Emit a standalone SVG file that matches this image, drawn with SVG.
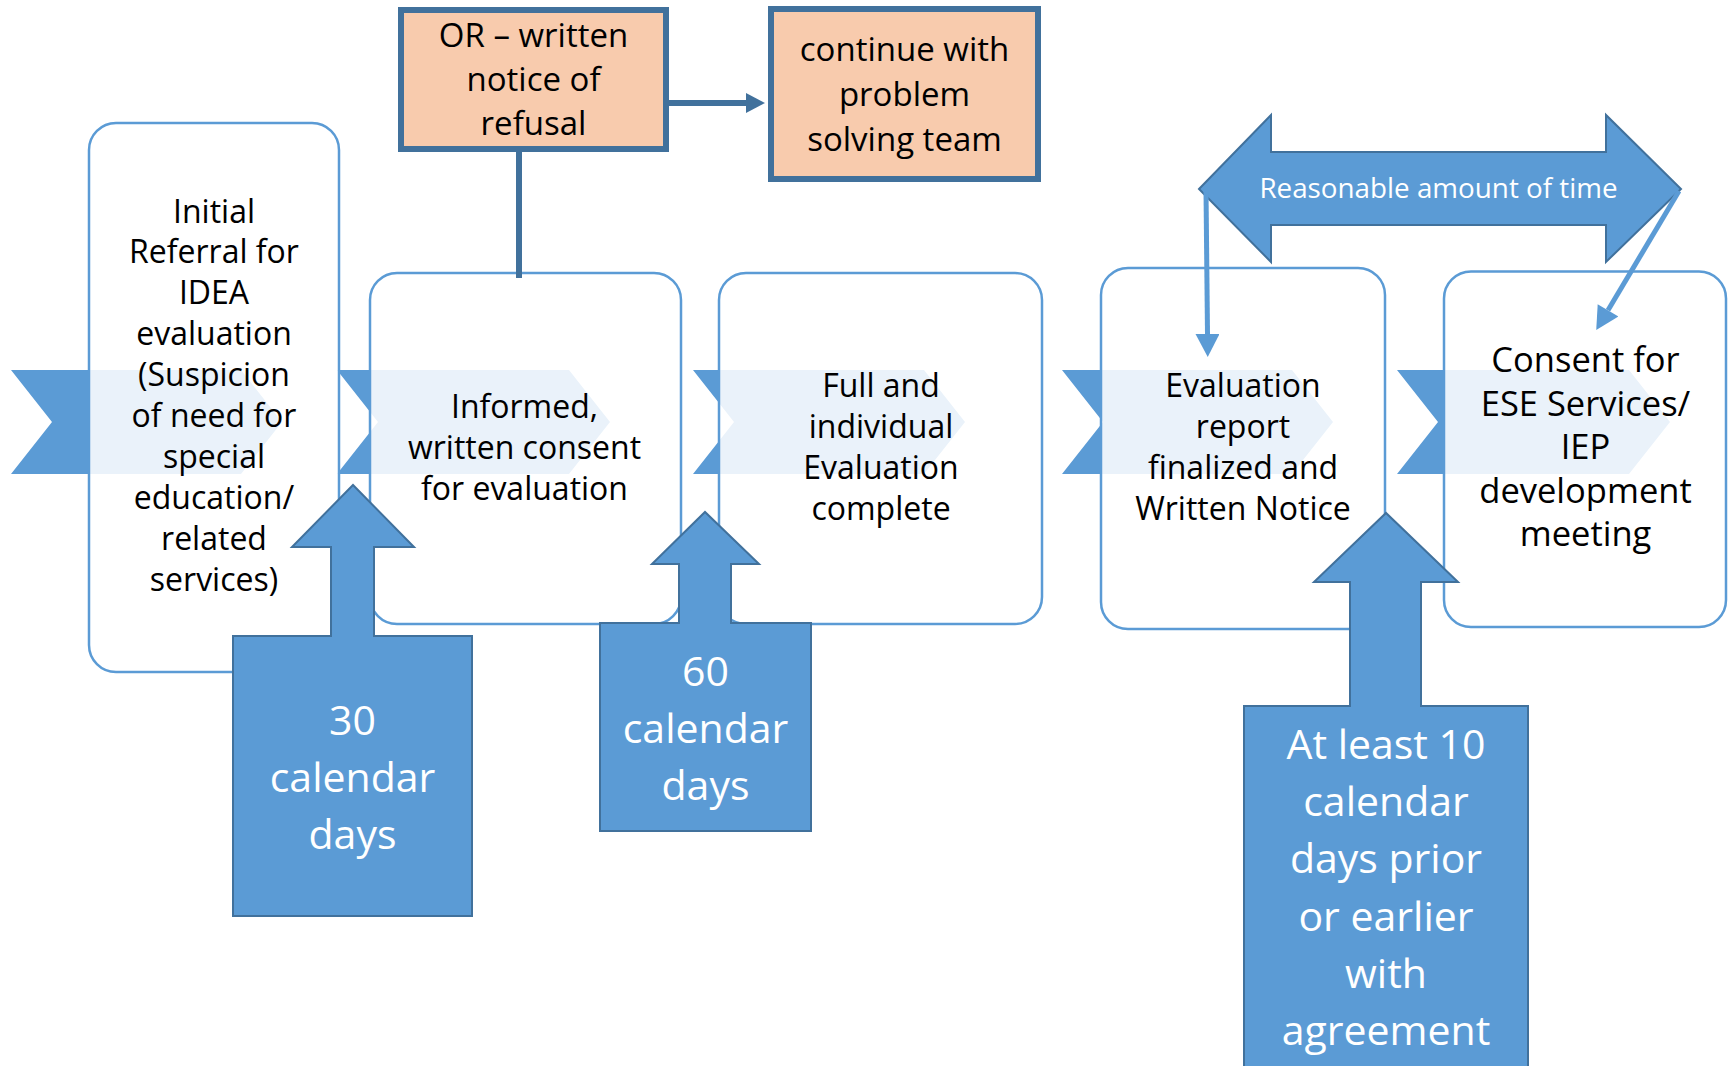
<svg xmlns="http://www.w3.org/2000/svg" width="1733" height="1066" viewBox="0 0 1733 1066">
<style>
text{font-family:"Open Sans","Liberation Sans",sans-serif;text-anchor:middle;}
.chev{fill:#5B9BD5;}
.node{fill:#FFFFFF;fill-opacity:0.87;stroke:#5B9BD5;stroke-width:2.5;}
.nt{font-size:32px;fill:#000000;}
.n5t{font-size:34.5px;fill:#000000;}
.peach{fill:#F8CBAD;stroke:#41719C;stroke-width:6;}
.pt{font-size:33px;fill:#000000;}
.blk{fill:#5B9BD5;stroke:#41719C;stroke-width:2;stroke-linejoin:miter;}
.bt{font-size:41px;fill:#FFFFFF;}
.rt{font-size:27.8px;fill:#FFFFFF;}
.thin{stroke:#5B9BD5;stroke-width:5;fill:none;}
.dark{stroke:#41719C;stroke-width:6;fill:none;}
</style>
<defs>
<marker id="mthin" markerUnits="userSpaceOnUse" markerWidth="24" markerHeight="24" refX="0" refY="12" orient="auto" viewBox="0 0 23 24">
<path d="M0,0 L23,12 L0,24 Z" fill="#5B9BD5"/>
</marker>
<marker id="mdark" markerUnits="userSpaceOnUse" markerWidth="20" markerHeight="20" refX="0" refY="10" orient="auto" viewBox="0 0 19 20">
<path d="M0,0 L19,10 L0,20 Z" fill="#41719C"/>
</marker>
</defs>
<rect x="0" y="0" width="1733" height="1066" fill="#FFFFFF"/>

<g id="chevrons">
<path class="chev" d="M11,370 L241,370 L282,422 L241,474 L11,474 L52,422 Z"/>
<path class="chev" d="M337,370 L569,370 L610,422 L569,474 L337,474 L378,422 Z"/>
<path class="chev" d="M693,370 L924,370 L965,422 L924,474 L693,474 L734,422 Z"/>
<path class="chev" d="M1062,370 L1292,370 L1333,422 L1292,474 L1062,474 L1103,422 Z"/>
<path class="chev" d="M1397,370 L1629,370 L1670,422 L1629,474 L1397,474 L1438,422 Z"/>
</g>

<g id="node1">
<rect class="node" x="89" y="123" width="250" height="549" rx="27"/>
<text class="nt"><tspan x="214" y="222.5">Initial</tspan><tspan x="214" y="263.4">Referral for</tspan><tspan x="214" y="304.3">IDEA</tspan><tspan x="214" y="345.2">evaluation</tspan><tspan x="214" y="386.1">(Suspicion</tspan><tspan x="214" y="427">of need for</tspan><tspan x="214" y="467.9">special</tspan><tspan x="214" y="508.8">education/</tspan><tspan x="214" y="549.7">related</tspan><tspan x="214" y="590.6">services)</tspan></text>
</g>

<g id="node2">
<rect class="node" x="370" y="273" width="311" height="351" rx="27"/>
<text class="nt"><tspan x="524.5" y="418">Informed,</tspan><tspan x="524.5" y="459">written consent</tspan><tspan x="524.5" y="500">for evaluation</tspan></text>
</g>

<g id="node3">
<rect class="node" x="719" y="273" width="323" height="351" rx="27"/>
<text class="nt"><tspan x="881" y="397">Full and</tspan><tspan x="881" y="438">individual</tspan><tspan x="881" y="479">Evaluation</tspan><tspan x="881" y="520">complete</tspan></text>
</g>

<g id="node4">
<rect class="node" x="1101" y="268" width="284" height="361" rx="27"/>
<text class="nt"><tspan x="1243" y="397">Evaluation</tspan><tspan x="1243" y="438">report</tspan><tspan x="1243" y="479">finalized and</tspan><tspan x="1243" y="520">Written Notice</tspan></text>
</g>

<g id="node5">
<rect class="node" x="1444" y="271.5" width="282" height="355.5" rx="27"/>
<text class="n5t"><tspan x="1585.5" y="372">Consent for</tspan><tspan x="1585.5" y="415.6">ESE Services/</tspan><tspan x="1585.5" y="459.2">IEP</tspan><tspan x="1585.5" y="502.8">development</tspan><tspan x="1585.5" y="546.4">meeting</tspan></text>
</g>

<g id="refusal">
<rect class="peach" x="401" y="10" width="265" height="139"/>
<text class="pt"><tspan x="533.5" y="47">OR – written</tspan><tspan x="533.5" y="91">notice of</tspan><tspan x="533.5" y="135">refusal</tspan></text>
</g>

<g id="continue">
<rect class="peach" x="771" y="9" width="267" height="170"/>
<text class="pt"><tspan x="904.5" y="61">continue with</tspan><tspan x="904.5" y="106">problem</tspan><tspan x="904.5" y="151">solving team</tspan></text>
</g>

<g id="connectors">
<line class="dark" x1="519" y1="149" x2="519" y2="278" stroke-width="5.5"/>
<line class="dark" x1="666" y1="103" x2="746" y2="103" marker-end="url(#mdark)"/>
</g>

<g id="days30">
<path class="blk" d="M233,916 L472,916 L472,636 L374,636 L374,547 L414,547 L353,485 L292,547 L331,547 L331,636 L233,636 Z"/>
<text class="bt"><tspan x="352.5" y="735">30</tspan><tspan x="352.5" y="792">calendar</tspan><tspan x="352.5" y="849">days</tspan></text>
</g>

<g id="days60">
<path class="blk" d="M600,831 L811,831 L811,623 L731,623 L731,564 L759,564 L705,512 L652,564 L679,564 L679,623 L600,623 Z"/>
<text class="bt"><tspan x="705.5" y="686">60</tspan><tspan x="705.5" y="743">calendar</tspan><tspan x="705.5" y="800">days</tspan></text>
</g>

<g id="days10">
<path class="blk" d="M1244,1072 L1528,1072 L1528,706 L1421,706 L1421,582 L1458,582 L1386,513 L1314,582 L1350,582 L1350,706 L1244,706 Z"/>
<text class="bt"><tspan x="1386" y="759">At least 10</tspan><tspan x="1386" y="816.2">calendar</tspan><tspan x="1386" y="873.4">days prior</tspan><tspan x="1386" y="930.6">or earlier</tspan><tspan x="1386" y="987.8">with</tspan><tspan x="1386" y="1045">agreement</tspan></text>
</g>

<g id="reasonable">
<path class="blk" d="M1199,189 L1271,115 L1271,152 L1606,152 L1606,115 L1681,189 L1606,262 L1606,225 L1271,225 L1271,262 Z"/>
<text class="rt" x="1438.5" y="198">Reasonable amount of time</text>
</g>

<g id="time-connectors">
<line class="thin" x1="1206" y1="190" x2="1207.5" y2="334" marker-end="url(#mthin)"/>
<line class="thin" x1="1679" y1="191" x2="1608" y2="310.3" marker-end="url(#mthin)"/>
</g>
</svg>
